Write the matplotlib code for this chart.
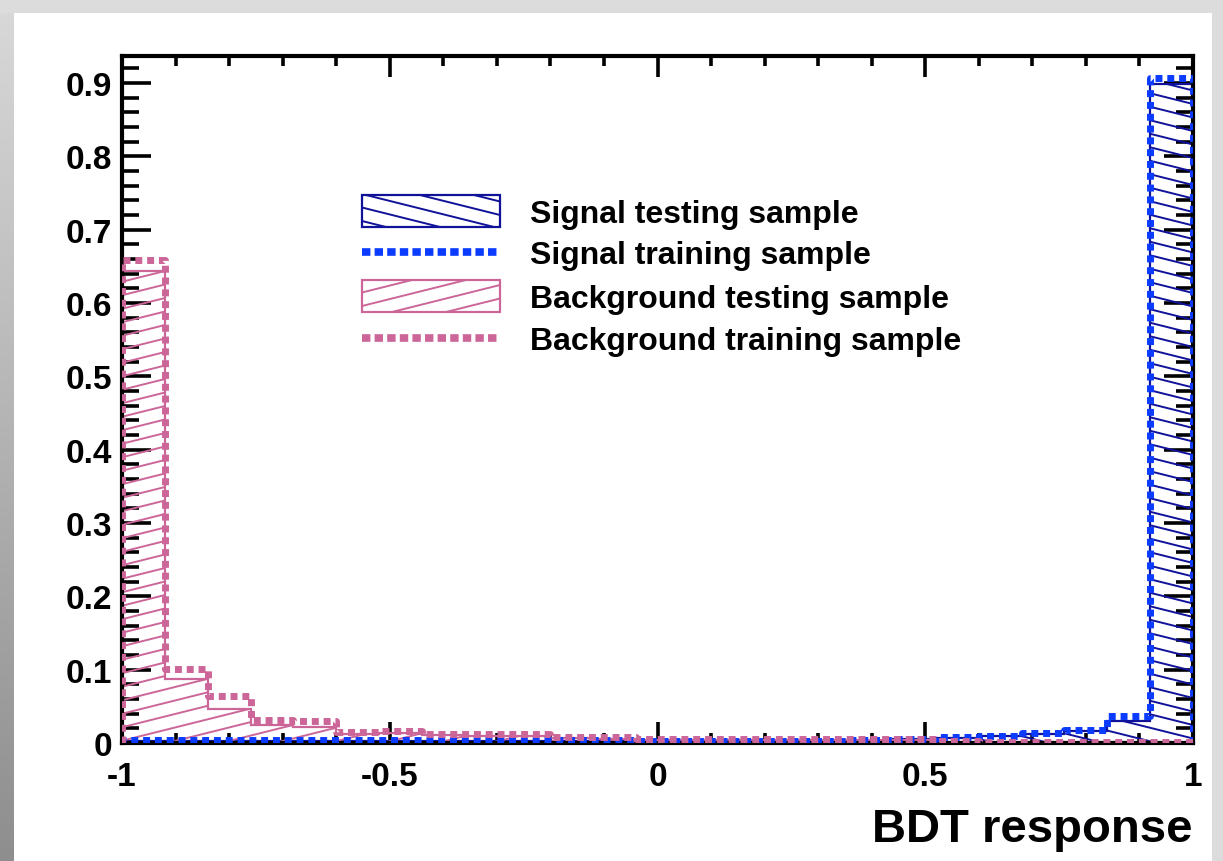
import numpy as np
import matplotlib
matplotlib.use("Agg")
import matplotlib.pyplot as plt
from matplotlib.patches import Polygon, Rectangle
from matplotlib.collections import LineCollection
from matplotlib.lines import Line2D
from matplotlib.ticker import FixedLocator, MultipleLocator

plt.rcParams['font.family'] = ['Liberation Sans', 'DejaVu Sans']
plt.rcParams['font.weight'] = 'bold'
plt.rcParams['axes.unicode_minus'] = False

# ---------------- data ----------------
bin_edges = [-1.00, -0.92, -0.84, -0.76, -0.68, -0.60, -0.52, -0.44, -0.36,
             -0.28, -0.20, -0.12, -0.04, 0.04, 0.12, 0.20, 0.28, 0.36, 0.44,
             0.52, 0.60, 0.68, 0.76, 0.84, 0.92, 1.00]

sig_test = [0.003, 0.003, 0.003, 0.003, 0.003, 0.003, 0.003, 0.003, 0.003,
            0.003, 0.003, 0.003, 0.003, 0.003, 0.003, 0.003, 0.003, 0.003,
            0.005, 0.007, 0.009, 0.012, 0.016, 0.030, 0.899]
sig_train = [0.004, 0.004, 0.004, 0.004, 0.004, 0.004, 0.004, 0.004, 0.004,
             0.004, 0.004, 0.004, 0.003, 0.003, 0.003, 0.003, 0.003, 0.004,
             0.006, 0.008, 0.010, 0.013, 0.018, 0.037, 0.907]
bkg_test = [0.644, 0.087, 0.046, 0.025, 0.022, 0.012, 0.014, 0.011, 0.010,
            0.010, 0.007, 0.006, 0.004, 0.004, 0.004, 0.004, 0.004, 0.004,
            0.004, 0.002, 0.002, 0.002, 0.002, 0.002, 0.002]
bkg_train = [0.659, 0.101, 0.0645, 0.031, 0.030, 0.015, 0.017, 0.012, 0.012,
             0.012, 0.008, 0.008, 0.005, 0.005, 0.005, 0.005, 0.005, 0.005,
             0.005, 0.003, 0.002, 0.002, 0.002, 0.002, 0.002]

x_ticks = [-1, -0.5, 0, 0.5, 1]
x_ticklabels = ["-1", "-0.5", "0", "0.5", "1"]
y_ticks = [0, 0.1, 0.2, 0.3, 0.4, 0.5, 0.6, 0.7, 0.8, 0.9]
y_ticklabels = ["0", "0.1", "0.2", "0.3", "0.4", "0.5", "0.6", "0.7", "0.8", "0.9"]

legend_labels = ["Signal testing sample", "Signal training sample",
                 "Background testing sample", "Background training sample"]
x_label = "BDT response"

# ---------------- style ----------------
C_SIG_HATCH = "#10129a"
C_SIG_TRAIN = "#0a3bff"
C_BKG = "#cc6699"

W, H, DPI = 1223, 862, 100
fig = plt.figure(figsize=(W / DPI, H / DPI), dpi=DPI, facecolor="#dcdcdc")


def fx(px):
    return px / W


def fy(py):
    return 1 - py / H


# canvas: white pad with grey borders (gradient on the left)
fig.patches.append(Rectangle((fx(14), 0), fx(1212) - fx(14), fy(14),
                             transform=fig.transFigure, facecolor="white",
                             edgecolor="none", zorder=0))
grad = np.linspace(0, 1, 256).reshape(-1, 1)
gax = fig.add_axes([0, 0, fx(14), fy(14)], zorder=0)
gax.imshow(grad, aspect="auto", cmap=matplotlib.colors.LinearSegmentedColormap.from_list(
    "g", ["#d8d8d8", "#8e8e8e"]), extent=[0, 1, 0, 1], origin="upper")
gax.axis("off")

ax_l, ax_r, ax_t, ax_b = 122, 1193, 57, 744
ax = fig.add_axes([fx(ax_l), fy(ax_b), fx(ax_r) - fx(ax_l), fy(ax_t) - fy(ax_b)],
                  zorder=2)
ax.set_facecolor("none")


def step_xy(edges, vals):
    xs = [edges[0]]
    ys = [0.0]
    for i, v in enumerate(vals):
        xs += [edges[i], edges[i + 1]]
        ys += [v, v]
    xs.append(edges[-1])
    ys.append(0.0)
    return np.array(xs), np.array(ys)


def hatch_segments(x0, x1, y0, y1, slope, spacing):
    """lines in pixel coords (y up from bottom), returned in figure fraction"""
    segs = []
    span = abs(slope) * (x1 - x0)
    b = y0 - span - spacing
    while b < y1 + span + spacing:
        ya = b
        yb = b + slope * (x1 - x0)
        segs.append([(x0 / W, ya / H), (x1 / W, yb / H)])
        b += spacing
    return segs


def hatched_hist(vals, color, slope, lw_out=1.6, lw_hatch=1.4):
    xs, ys = step_xy(bin_edges, vals)
    poly = Polygon(np.column_stack([xs, ys]), closed=True, fill=False,
                   edgecolor=color, lw=lw_out, transform=ax.transData, zorder=2)
    ax.add_patch(poly)
    segs = hatch_segments(ax_l, ax_r, H - ax_b, H - ax_t, slope, 13.5)
    lc = LineCollection(segs, colors=color, linewidths=lw_hatch,
                        transform=fig.transFigure, zorder=2)
    ax.add_collection(lc, autolim=False)
    lc.set_clip_path(poly)


def dotted_hist(vals, color):
    xs, ys = step_xy(bin_edges, vals)
    ln = Line2D(xs, ys, color=color, lw=5, linestyle=(0, (1, 0.7)),
                dash_capstyle="butt", solid_capstyle="butt", zorder=3)
    ax.add_line(ln)


hatched_hist(sig_test, C_SIG_HATCH, -0.25)
hatched_hist(bkg_test, C_BKG, 0.25)
dotted_hist(sig_train, C_SIG_TRAIN)
dotted_hist(bkg_train, C_BKG)

ax.set_xlim(-1, 1)
ax.set_ylim(0, 0.937)

ax.xaxis.set_major_locator(FixedLocator(x_ticks))
ax.set_xticklabels(x_ticklabels)
ax.xaxis.set_minor_locator(MultipleLocator(0.1))
ax.yaxis.set_major_locator(FixedLocator(y_ticks))
ax.set_yticklabels(y_ticklabels)
ax.yaxis.set_minor_locator(MultipleLocator(0.02))

ax.tick_params(which="both", direction="in", top=True, right=True,
               width=2.6, color="black")
ax.yaxis.set_tick_params(which="major", length=21, pad=7, labelsize=24)
ax.yaxis.set_tick_params(which="minor", length=12)
ax.xaxis.set_tick_params(which="major", length=15, pad=13, labelsize=24)
ax.xaxis.set_tick_params(which="minor", length=7.5)
for lab in ax.get_xticklabels() + ax.get_yticklabels():
    lab.set_fontweight("bold")
for sp in ax.spines.values():
    sp.set_linewidth(3)
    sp.set_zorder(2.5)

fig.text(fx(1193), fy(842), x_label, ha="right", va="baseline",
         fontsize=34, fontweight="bold")

# ---------------- legend ----------------
leg_x0, leg_x1 = 362, 500
text_x = 530
rows_center = [212, 253, 297, 339]
fs_leg = 23


def legend_box(yc, color, slope):
    y_top, y_bot = yc - 16, yc + 16
    rect = Rectangle((fx(leg_x0), fy(y_bot)), fx(leg_x1) - fx(leg_x0),
                     fy(y_top) - fy(y_bot), transform=fig.transFigure,
                     fill=False, edgecolor=color, lw=1.6, zorder=5)
    fig.add_artist(rect)
    segs = hatch_segments(leg_x0, leg_x1, H - y_bot, H - y_top, slope, 13.5)
    lc = LineCollection(segs, colors=color, linewidths=1.4,
                        transform=fig.transFigure, zorder=5)
    fig.add_artist(lc)
    lc.set_clip_path(rect)


def legend_line(yc, color):
    ln = Line2D([fx(leg_x0), fx(leg_x1 - 3)], [fy(yc), fy(yc)],
                transform=fig.transFigure, color=color, lw=5.5,
                linestyle=(0, (1.1, 0.55)), dash_capstyle="butt", zorder=5)
    fig.add_artist(ln)


legend_box(rows_center[0], C_SIG_HATCH, -0.25)
legend_line(rows_center[1], C_SIG_TRAIN)
legend_box(rows_center[2], C_BKG, 0.25)
legend_line(rows_center[3], C_BKG)

for yc, lab in zip(rows_center, legend_labels):
    fig.text(fx(text_x), fy(yc + 11), lab, ha="left", va="baseline",
             fontsize=fs_leg, fontweight="bold", zorder=6)

fig.savefig("out.png", dpi=DPI, facecolor=fig.get_facecolor())
